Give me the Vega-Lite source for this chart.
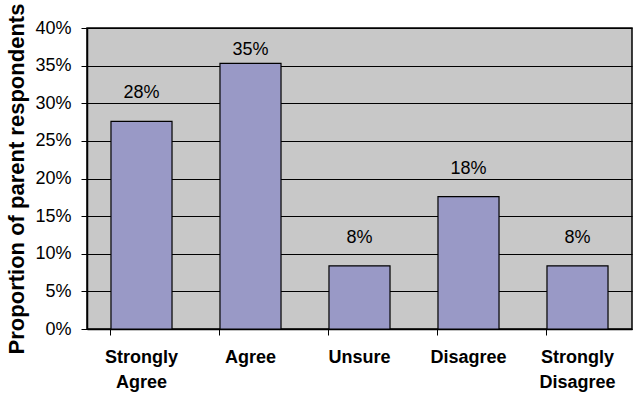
{
  "$schema": "https://vega.github.io/schema/vega-lite/v6.json",
  "width": 545,
  "height": 301,
  "autosize": {"type": "none"},
  "padding": {"left": 87, "top": 28, "right": 1, "bottom": 64},
  "background": "white",
  "config": {
    "view": {"fill": "#C8C8C8", "stroke": "black", "strokeWidth": 1.5},
    "font": "Liberation Sans"
  },
  "data": {
    "values": [
      {"response": "Strongly Agree", "share": 0.276},
      {"response": "Agree", "share": 0.353},
      {"response": "Unsure", "share": 0.084},
      {"response": "Disagree", "share": 0.176},
      {"response": "Strongly Disagree", "share": 0.084}
    ]
  },
  "encoding": {
    "x": {
      "field": "response",
      "type": "nominal",
      "sort": null,
      "scale": {"paddingInner": 0.44, "paddingOuter": 0.22},
      "axis": {
        "title": null,
        "labelAngle": 0,
        "labelExpr": "split(datum.label, ' ')",
        "labelFont": "Liberation Sans",
        "labelFontSize": 18,
        "labelFontWeight": "bold",
        "labelColor": "black",
        "labelLineHeight": 25,
        "labelPadding": 13,
        "labelBaseline": "top",
        "bandPosition": 0,
        "ticks": true,
        "tickSize": 6,
        "tickColor": "black",
        "domainColor": "black",
        "domainWidth": 1.5,
        "grid": false
      }
    },
    "y": {
      "field": "share",
      "type": "quantitative",
      "scale": {"domain": [0, 0.4]},
      "axis": {
        "title": "Proportion of parent respondents",
        "titleFont": "Liberation Sans",
        "titleFontSize": 22,
        "titleFontWeight": "bold",
        "titleColor": "black",
        "titlePadding": 6,
        "format": ".0%",
        "values": [0, 0.05, 0.1, 0.15, 0.2, 0.25, 0.3, 0.35, 0.4],
        "labelFont": "Liberation Sans",
        "labelFontSize": 18,
        "labelColor": "black",
        "labelPadding": 10,
        "tickSize": 6,
        "tickColor": "black",
        "domainColor": "black",
        "domainWidth": 1.5,
        "grid": true,
        "gridColor": "black",
        "gridWidth": 1.2,
        "gridOpacity": 1
      }
    }
  },
  "layer": [
    {
      "mark": {"type": "bar", "fill": "#9999C6", "stroke": "black", "strokeWidth": 1.2}
    },
    {
      "transform": [{"filter": "datum.share < 0.3"}],
      "mark": {"type": "text", "baseline": "alphabetic", "dy": -23, "fontSize": 18, "font": "Liberation Sans", "color": "black"},
      "encoding": {
        "text": {"field": "share", "type": "quantitative", "format": ".0%"}
      }
    },
    {
      "transform": [{"filter": "datum.share >= 0.3"}],
      "mark": {"type": "text", "baseline": "alphabetic", "dy": -8, "fontSize": 18, "font": "Liberation Sans", "color": "black"},
      "encoding": {
        "text": {"field": "share", "type": "quantitative", "format": ".0%"}
      }
    }
  ]
}
